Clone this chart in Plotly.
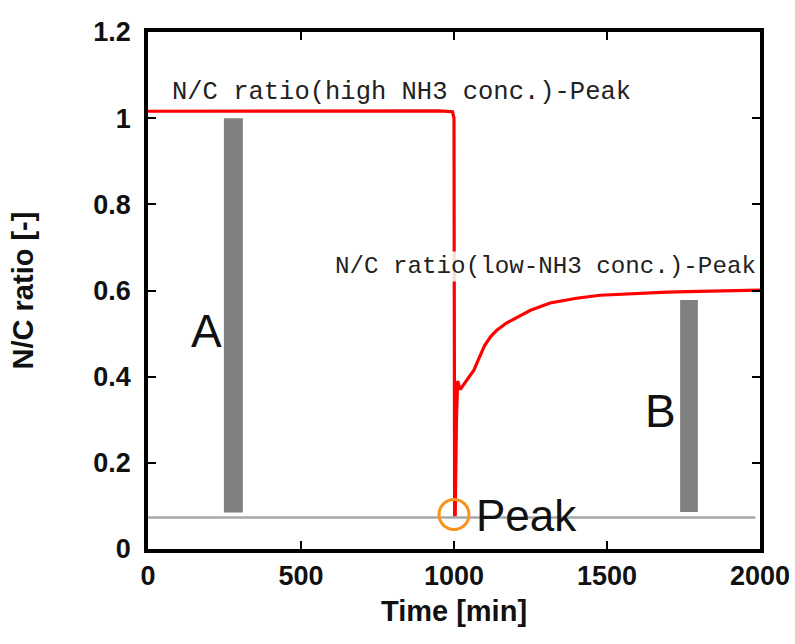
import plotly.graph_objects as go

# ---- data ----
time_min = [0, 200, 400, 600, 800, 950, 995, 1000, 1002, 1004, 1008, 1012, 1020, 1035, 1052,
            1065, 1080, 1100, 1120, 1140, 1170, 1206, 1250, 1314, 1400, 1477, 1580, 1696,
            1800, 1900, 2000]
nc_ratio = [1.016, 1.016, 1.016, 1.017, 1.017, 1.017, 1.015, 1.00, 0.08, 0.08, 0.30, 0.39,
            0.37, 0.385, 0.40, 0.415, 0.44, 0.472, 0.493, 0.508, 0.524, 0.538, 0.554,
            0.571, 0.582, 0.589, 0.593, 0.596, 0.598, 0.600, 0.601]

bar_labels = ["A", "B"]
bar_center = [279, 1768]
bar_width = [62, 58]
bar_bottom = [0.085, 0.086]
bar_top = [1.0, 0.578]
label_x = [190, 1675]
label_y = [0.505, 0.32]

baseline_x = [0, 1985]
baseline_y = [0.073, 0.073]

peak_x = [1000]
peak_y = [0.08]

x_ticks = [0, 500, 1000, 1500, 2000]
y_ticks = [0, 0.2, 0.4, 0.6, 0.8, 1, 1.2]
y_ticklabels = ["0", "0.2", "0.4", "0.6", "0.8", "1", "1.2"]

fig = go.Figure()

fig.add_trace(go.Scatter(x=baseline_x, y=baseline_y, mode="lines",
                         line=dict(color="#a8a8a8", width=2.5), hoverinfo="skip"))

fig.add_trace(go.Bar(x=bar_center, y=[t - b for t, b in zip(bar_top, bar_bottom)],
                     base=bar_bottom, width=bar_width,
                     marker=dict(color="#808080", line=dict(width=0))))

fig.add_trace(go.Scatter(x=time_min, y=nc_ratio, mode="lines",
                         line=dict(color="#ff0000", width=3.2)))

fig.add_trace(go.Scatter(x=peak_x, y=peak_y, mode="markers",
                         marker=dict(symbol="circle-open", size=30, color="#f7931e",
                                     line=dict(width=3, color="#f7931e"))))

# text annotations
fig.add_annotation(x=72, y=1.06, xref="x", yref="y", xanchor="left", yanchor="middle",
                   text="N/C ratio(high NH3 conc.)-Peak", showarrow=False,
                   font=dict(family="Liberation Mono", size=25.5, color="#222"))
fig.add_annotation(x=603, y=0.655, xref="x", yref="y", xanchor="left", yanchor="middle",
                   text="N/C ratio(low-NH3 conc.)-Peak", showarrow=False,
                   bgcolor="rgba(255,255,255,0.85)",
                   font=dict(family="Liberation Mono", size=24.2, color="#222"))
for lab, lx, ly in zip(bar_labels, label_x, label_y):
    fig.add_annotation(x=lx, y=ly, xref="x", yref="y", text=lab, showarrow=False,
                       font=dict(family="Liberation Sans", size=46, color="#111"))
fig.add_annotation(x=1065, y=0.078, xref="x", yref="y", xanchor="left", yanchor="middle",
                   text="Peak", showarrow=False,
                   font=dict(family="Liberation Sans", size=44, color="#111"))

axis_common = dict(showline=True, linecolor="black", linewidth=3.5, mirror="ticks",
                   ticks="inside", ticklen=8, tickwidth=2, tickcolor="black",
                   showgrid=False, zeroline=False, automargin=False,
                   tickfont=dict(family="Liberation Sans", size=27, color="#111", weight="bold"))

fig.update_xaxes(range=[0, 2000], tickvals=x_ticks, ticktext=[str(v) for v in x_ticks],
                 ticklabelstandoff=0,
                 title=dict(text="<b>Time [min]</b>", standoff=12,
                            font=dict(family="Liberation Sans", size=29, color="#111")),
                 **axis_common)
fig.update_yaxes(range=[0, 1.2], tickvals=y_ticks, ticktext=y_ticklabels,
                 ticklabelstandoff=8,
                 title=dict(text="<b>N/C ratio [-]</b>", standoff=52,
                            font=dict(family="Liberation Sans", size=29, color="#111")),
                 **axis_common)

fig.update_layout(width=795, height=644, showlegend=False,
                  margin=dict(l=148, r=35, t=32, b=95),
                  plot_bgcolor="white", paper_bgcolor="white")

fig.write_html("out.html")
